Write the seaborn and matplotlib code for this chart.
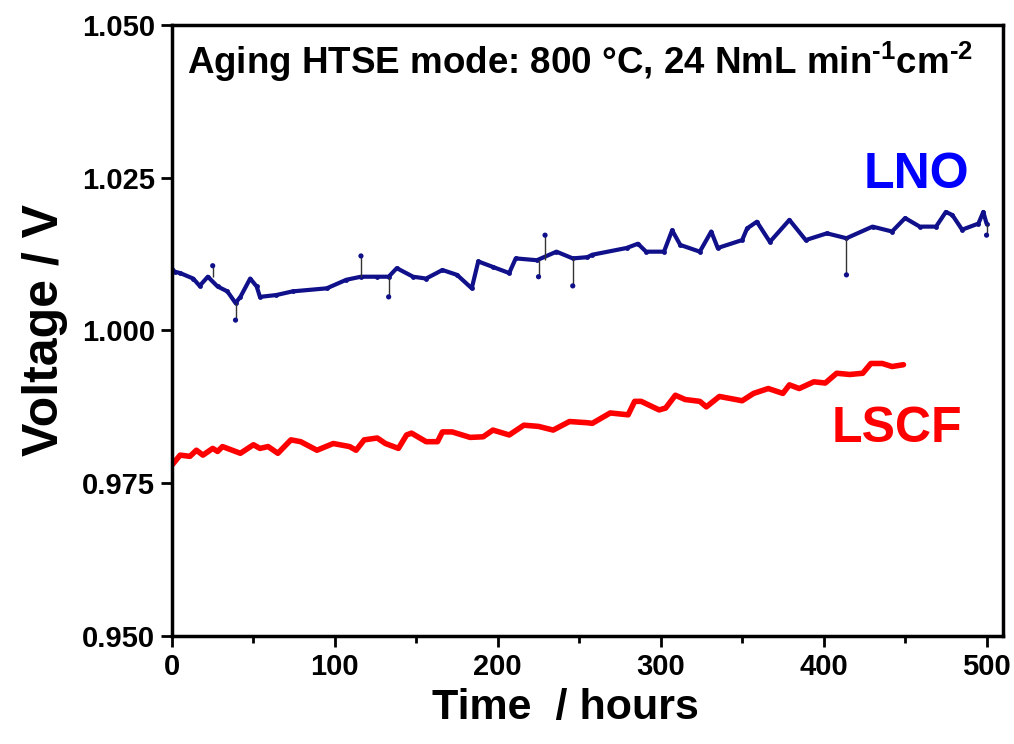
import matplotlib
matplotlib.use("Agg")
import matplotlib.pyplot as plt
import seaborn as sns
import numpy as np
from matplotlib.ticker import MultipleLocator, FormatStrFormatter

# ---------------- data ----------------
lno_t = [0, 2, 5, 13, 17, 22, 28, 34, 39, 42, 48, 52, 54, 64, 74, 95, 107, 116,
         126, 133, 138, 148, 156, 166, 175, 184, 188, 197, 207, 211, 224, 236,
         246, 255, 258, 279, 286, 291, 302, 307, 312, 324, 331, 335, 350, 353,
         359, 367, 379, 389, 402, 414, 430, 442, 450, 459, 469, 475, 479, 485,
         495, 498, 500]
lno_v = [1.0100, 1.0096, 1.0094, 1.0085, 1.0073, 1.0088, 1.0072, 1.0064, 1.0045,
         1.0055, 1.0085, 1.0072, 1.0055, 1.0058, 1.0064, 1.0069, 1.0083, 1.0088,
         1.0088, 1.0088, 1.0102, 1.0088, 1.0085, 1.0099, 1.0091, 1.0069, 1.0113,
         1.0104, 1.0094, 1.0118, 1.0115, 1.0129, 1.0118, 1.0120, 1.0124, 1.0135,
         1.0142, 1.0129, 1.0129, 1.0164, 1.0140, 1.0129, 1.0162, 1.0135, 1.0148,
         1.0167, 1.0178, 1.0145, 1.0181, 1.0148, 1.0159, 1.0151, 1.0170, 1.0162,
         1.0184, 1.0170, 1.0170, 1.0194, 1.0189, 1.0165, 1.0175, 1.0194, 1.0175]

# outlier spikes on the LNO record: time, base value, tip value
spike_t = [25, 39, 116, 133, 225, 229, 246, 414, 500]
spike_base = [1.0088, 1.0045, 1.0088, 1.0088, 1.0115, 1.0115, 1.0118, 1.0151, 1.0175]
spike_tip = [1.0106, 1.0017, 1.0122, 1.0055, 1.0088, 1.0156, 1.0073, 1.0091, 1.0156]

lscf_t = [0, 1, 5, 11, 15, 19, 25, 28, 31, 42, 50, 54, 59, 65, 73, 79, 89, 99,
          109, 113, 118, 126, 131, 139, 144, 147, 156, 163, 166, 172, 183, 191,
          197, 207, 216, 225, 234, 244, 255, 258, 269, 280, 284, 288, 299, 303,
          309, 315, 324, 328, 336, 350, 357, 366, 375, 379, 385, 394, 401, 408,
          416, 424, 429, 436, 442, 449]
lscf_v = [0.9780, 0.9783, 0.9796, 0.9794, 0.9804, 0.9796, 0.9807, 0.9802, 0.9810,
          0.9799, 0.9813, 0.9807, 0.9810, 0.9799, 0.9821, 0.9818, 0.9804, 0.9815,
          0.9810, 0.9804, 0.9821, 0.9824, 0.9815, 0.9807, 0.9829, 0.9832, 0.9818,
          0.9818, 0.9834, 0.9834, 0.9825, 0.9826, 0.9837, 0.9829, 0.9845, 0.9843,
          0.9837, 0.9851, 0.9849, 0.9848, 0.9865, 0.9862, 0.9884, 0.9884, 0.9870,
          0.9873, 0.9894, 0.9887, 0.9884, 0.9875, 0.9892, 0.9885, 0.9897, 0.9905,
          0.9897, 0.9911, 0.9905, 0.9916, 0.9914, 0.9930, 0.9928, 0.9930, 0.9946,
          0.9946, 0.9941, 0.9944]

x_ticks = [0, 100, 200, 300, 400, 500]
y_ticks = [0.950, 0.975, 1.000, 1.025, 1.050]

# ---------------- style ----------------
sns.set_theme(style="white")
plt.rcParams['font.family'] = ['Liberation Sans', 'DejaVu Sans']
plt.rcParams['font.weight'] = 'bold'
plt.rcParams['mathtext.fontset'] = 'custom'
plt.rcParams['mathtext.rm'] = 'Liberation Sans:bold'
plt.rcParams['mathtext.bf'] = 'Liberation Sans:bold'
plt.rcParams['mathtext.it'] = 'Liberation Sans:bold'
for k in ['text.color', 'axes.labelcolor', 'xtick.color', 'ytick.color']:
    plt.rcParams[k] = 'black'

fig = plt.figure(figsize=(10.14, 7.44), dpi=100)
ax = fig.add_axes([0.1696, 0.1452, 0.8194, 0.8212])

navy = '#10108a'
sns.lineplot(x=lno_t, y=lno_v, ax=ax, color=navy, lw=3.0, sort=False,
             estimator=None, marker='o', markersize=3.5, markeredgewidth=0)
ax.vlines(spike_t, spike_base, spike_tip, colors='#333333', lw=1.0, zorder=3)
sns.scatterplot(x=spike_t, y=spike_tip, ax=ax, color=navy, s=14,
                edgecolor='none', zorder=4)

sns.lineplot(x=lscf_t, y=lscf_v, ax=ax, color='#ff0000', lw=4.0, sort=False,
             estimator=None)

ax.set_xlim(0, 510)
ax.set_ylim(0.950, 1.050)
ax.set_xticks(x_ticks)
ax.set_yticks(y_ticks)
ax.xaxis.set_minor_locator(MultipleLocator(50))
ax.yaxis.set_major_formatter(FormatStrFormatter('%.3f'))

ax.tick_params(axis='both', which='major', direction='out', length=8, width=2,
               color='black', labelcolor='black', labelsize=21, pad=4,
               left=True, bottom=True)
ax.tick_params(axis='x', which='minor', direction='out', length=5, width=2,
               color='black', bottom=True)
for lab in ax.get_xticklabels() + ax.get_yticklabels():
    lab.set_fontweight('bold')

for s in ax.spines.values():
    s.set_visible(True)
    s.set_color('black')
    s.set_linewidth(2.5)

ax.set_xlabel('Time  / hours', fontsize=31, fontweight='bold', color='black')
ax.xaxis.set_label_coords(0.474, -0.085)
ax.set_ylabel('Voltage / V', fontsize=36, fontweight='bold', labelpad=10,
              color='black')

ax.text(0.018, 0.975, r'Aging HTSE mode: 800 °C, 24 NmL min$^{\text{-1}}$cm$^{\text{-2}}$',
        transform=ax.transAxes, fontsize=26.5, fontweight='bold', va='top',
        ha='left', color='black')
ax.text(457, 1.0255, 'LNO', color='#0000ff', fontsize=36, fontweight='bold',
        ha='center', va='center')
ax.text(445, 0.9839, 'LSCF', color='#ff0000', fontsize=36, fontweight='bold',
        ha='center', va='center')

fig.savefig('out.png', dpi=100)
